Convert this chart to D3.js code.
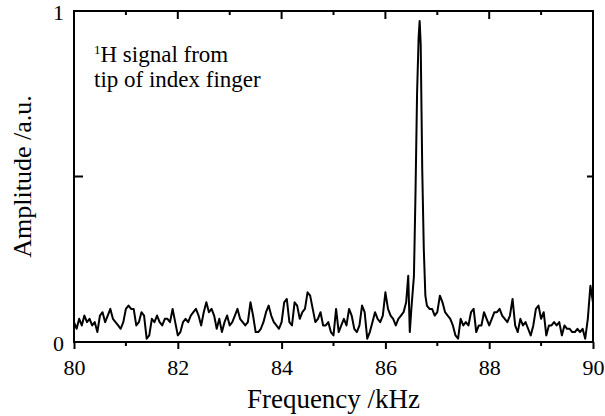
<!DOCTYPE html>
<html>
<head>
<meta charset="utf-8">
<script src="https://cdn.jsdelivr.net/npm/d3@7"></script>
<style>
  body { margin: 0; background: #fff; }
  text { font-family: "Liberation Serif", "Times New Roman", serif; fill: #000; }
</style>
</head>
<body>
<div id="chart"></div>
<script>
// spectrum (frequency kHz, amplitude a.u.)
const freqs = [
  80.00, 80.05, 80.10, 80.15, 80.20, 80.25, 80.30, 80.35, 80.40, 80.45,
  80.50, 80.55, 80.60, 80.65, 80.70, 80.75, 80.80, 80.85, 80.90, 80.95,
  81.00, 81.05, 81.10, 81.15, 81.20, 81.25, 81.30, 81.35, 81.40, 81.45,
  81.50, 81.55, 81.60, 81.65, 81.70, 81.75, 81.80, 81.85, 81.90, 81.95,
  82.00, 82.05, 82.10, 82.15, 82.20, 82.25, 82.30, 82.35, 82.40, 82.45,
  82.50, 82.55, 82.60, 82.65, 82.70, 82.75, 82.80, 82.85, 82.90, 82.95,
  83.00, 83.05, 83.10, 83.15, 83.20, 83.25, 83.30, 83.35, 83.40, 83.45,
  83.50, 83.55, 83.60, 83.65, 83.70, 83.75, 83.80, 83.85, 83.90, 83.95,
  84.00, 84.05, 84.10, 84.15, 84.20, 84.25, 84.30, 84.35, 84.40, 84.45,
  84.50, 84.55, 84.60, 84.65, 84.70, 84.75, 84.80, 84.85, 84.90, 84.95,
  85.00, 85.05, 85.10, 85.15, 85.20, 85.25, 85.30, 85.35, 85.40, 85.45,
  85.50, 85.55, 85.60, 85.65, 85.70, 85.75, 85.80, 85.85, 85.90, 85.95,
  86.00, 86.05, 86.10, 86.15, 86.20, 86.25, 86.30, 86.35, 86.40, 86.44,
  86.47, 86.50, 86.55, 86.58, 86.61, 86.64, 86.66, 86.68, 86.71, 86.74,
  86.77, 86.80, 86.85, 86.90, 86.95, 87.00, 87.05, 87.10, 87.15, 87.20,
  87.25, 87.30, 87.35, 87.40, 87.45, 87.50, 87.55, 87.60, 87.65, 87.70,
  87.75, 87.80, 87.85, 87.90, 87.95, 88.00, 88.05, 88.10, 88.15, 88.20,
  88.25, 88.30, 88.35, 88.40, 88.45, 88.50, 88.55, 88.60, 88.65, 88.70,
  88.75, 88.80, 88.85, 88.90, 88.95, 89.00, 89.05, 89.10, 89.15, 89.20,
  89.25, 89.30, 89.35, 89.40, 89.45, 89.50, 89.55, 89.60, 89.65, 89.70,
  89.75, 89.80, 89.85, 89.90, 89.95, 90.00
];
const amps = [
  0.06, 0.04, 0.07, 0.05, 0.08, 0.06, 0.07, 0.05, 0.06, 0.03,
  0.08, 0.09, 0.06, 0.08, 0.10, 0.07, 0.06, 0.05, 0.04, 0.06,
  0.10, 0.11, 0.10, 0.10, 0.05, 0.06, 0.09, 0.08, 0.01, 0.02,
  0.07, 0.06, 0.08, 0.06, 0.05, 0.07, 0.07, 0.06, 0.10, 0.06,
  0.02, 0.03, 0.06, 0.07, 0.06, 0.08, 0.09, 0.10, 0.08, 0.05,
  0.09, 0.12, 0.09, 0.10, 0.08, 0.04, 0.07, 0.03, 0.06, 0.08,
  0.05, 0.06, 0.08, 0.10, 0.07, 0.06, 0.05, 0.06, 0.12, 0.08,
  0.03, 0.03, 0.04, 0.06, 0.09, 0.11, 0.08, 0.06, 0.05, 0.04,
  0.06, 0.12, 0.13, 0.06, 0.05, 0.12, 0.11, 0.07, 0.09, 0.10,
  0.15, 0.14, 0.10, 0.06, 0.07, 0.09, 0.05, 0.05, 0.06, 0.03,
  0.02, 0.10, 0.03, 0.05, 0.07, 0.05, 0.10, 0.08, 0.04, 0.03,
  0.05, 0.11, 0.09, 0.01, 0.03, 0.06, 0.09, 0.07, 0.06, 0.08,
  0.15, 0.10, 0.08, 0.07, 0.05, 0.07, 0.08, 0.09, 0.12, 0.20,
  0.03, 0.10, 0.20, 0.45, 0.75, 0.92, 0.97, 0.90, 0.52, 0.28,
  0.14, 0.11, 0.10, 0.10, 0.08, 0.09, 0.14, 0.12, 0.09, 0.08,
  0.07, 0.05, 0.02, 0.01, 0.07, 0.05, 0.06, 0.05, 0.09, 0.10,
  0.03, 0.05, 0.05, 0.09, 0.07, 0.05, 0.07, 0.09, 0.09, 0.10,
  0.08, 0.07, 0.06, 0.08, 0.13, 0.05, 0.03, 0.07, 0.05, 0.06,
  0.04, 0.02, 0.05, 0.10, 0.11, 0.07, 0.09, 0.02, 0.05, 0.05,
  0.06, 0.05, 0.06, 0.02, 0.05, 0.04, 0.04, 0.03, 0.03, 0.04,
  0.03, 0.04, 0.01, 0.07, 0.17, 0.12
];
const xMajor = [80, 82, 84, 86, 88, 90];
const xMinor = [81, 83, 85, 87, 89];
const yTickLabels = [0, 1];

let width = 605;
let height = 416;
let margin = { top: 11, right: 12, bottom: 74, left: 74 };

let svg = d3.select('#chart')
  .append('svg')
  .attr('width', width)
  .attr('height', height);

let xScale = d3.scaleLinear()
  .domain([80, 90])
  .range([margin.left, width - margin.right]);

let yScale = d3.scaleLinear()
  .domain([0, 1])
  .range([height - margin.bottom, margin.top]);

let x0 = margin.left, x1 = width - margin.right;
let y0 = height - margin.bottom, y1 = margin.top;

// spectrum line
let data = freqs.map((f, i) => [f, amps[i]]);
svg.append('path')
  .datum(data)
  .attr('fill', 'none')
  .attr('stroke', '#000')
  .attr('stroke-width', 2)
  .attr('stroke-linejoin', 'round')
  .attr('d', d3.line().x(d => xScale(d[0])).y(d => yScale(d[1])));

// frame
svg.append('rect')
  .attr('x', x0).attr('y', y1)
  .attr('width', x1 - x0).attr('height', y0 - y1)
  .attr('fill', 'none')
  .attr('stroke', '#000')
  .attr('stroke-width', 2);

// bottom axis: ticks point outward
let bottom = svg.append('g')
  .attr('transform', `translate(0,${y0})`)
  .call(d3.axisBottom(xScale).tickValues(xMajor).tickSize(7).tickPadding(10).tickFormat(d3.format('d')))
  .attr('font-family', null)
  .attr('font-size', null);
bottom.select('.domain').remove();
bottom.selectAll('line').attr('stroke-width', 2);
bottom.selectAll('text')
  .style('font-family', '"Liberation Serif", "Times New Roman", serif')
  .style('font-size', '22px');

svg.append('g').selectAll('line')
  .data(xMinor).enter().append('line')
  .attr('x1', d => xScale(d)).attr('x2', d => xScale(d))
  .attr('y1', y0).attr('y2', y0 + 4)
  .attr('stroke', '#000').attr('stroke-width', 2);

// top axis: ticks point inward
svg.append('g').selectAll('line')
  .data(xMajor.concat(xMinor)).enter().append('line')
  .attr('x1', d => xScale(d)).attr('x2', d => xScale(d))
  .attr('y1', y1).attr('y2', d => y1 + (xMajor.includes(d) ? 8 : 4))
  .attr('stroke', '#000').attr('stroke-width', 2);

// left / right ticks at 0.5, inward
svg.append('line')
  .attr('x1', x0).attr('x2', x0 + 9)
  .attr('y1', yScale(0.5)).attr('y2', yScale(0.5))
  .attr('stroke', '#000').attr('stroke-width', 2);
svg.append('line')
  .attr('x1', x1).attr('x2', x1 - 6)
  .attr('y1', yScale(0.5)).attr('y2', yScale(0.5))
  .attr('stroke', '#000').attr('stroke-width', 2);

// y tick labels
svg.append('g').selectAll('text')
  .data(yTickLabels).enter().append('text')
  .attr('x', x0 - 10)
  .attr('y', d => yScale(d) + 2)
  .attr('dy', '0.34em')
  .attr('text-anchor', 'end')
  .style('font-size', '22px')
  .text(d => d);

// axis labels
svg.append('text')
  .attr('x', (x0 + x1) / 2)
  .attr('y', 408)
  .attr('text-anchor', 'middle')
  .style('font-size', '27px')
  .text('Frequency /kHz');

svg.append('text')
  .attr('transform', `translate(31,${(y0 + y1) / 2}) rotate(-90)`)
  .attr('text-anchor', 'middle')
  .style('font-size', '26px')
  .text('Amplitude /a.u.');

// annotation
let note = svg.append('text')
  .attr('x', 94)
  .attr('y', 62)
  .style('font-size', '23px');
note.append('tspan').style('font-size', '13px').attr('dy', '-8').text('1');
note.append('tspan').attr('dy', '8').text('H signal from');

svg.append('text')
  .attr('x', 94)
  .attr('y', 87)
  .style('font-size', '23px')
  .text('tip of index finger');
</script>
</body>
</html>
